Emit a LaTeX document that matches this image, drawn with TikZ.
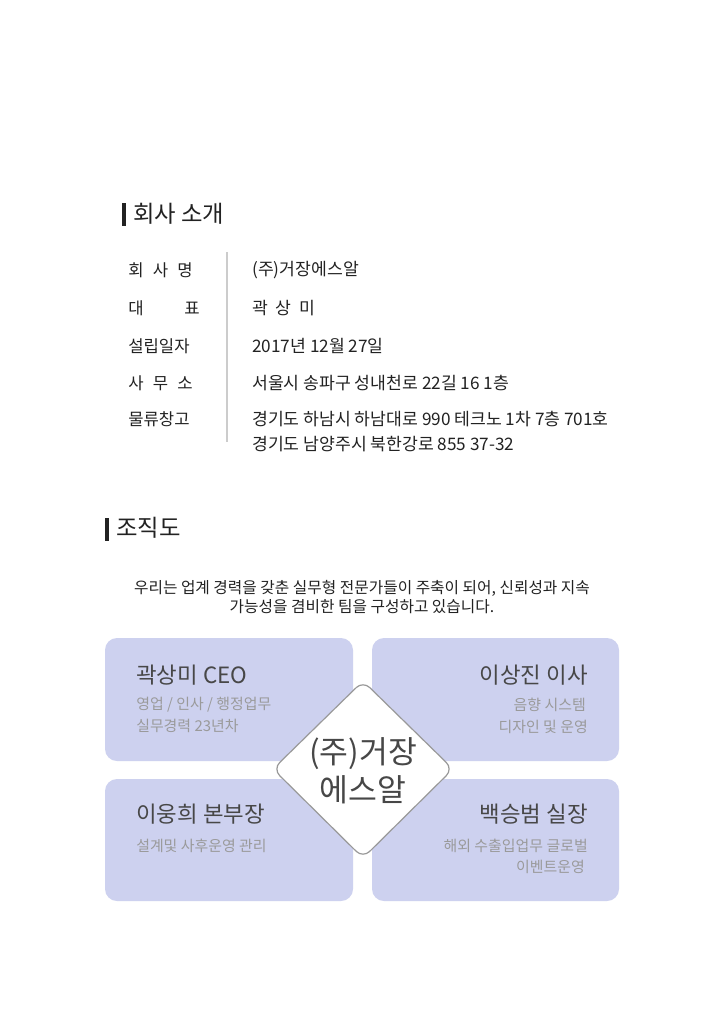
\documentclass[tikz,border=0pt]{standalone}
\usepackage{fontspec}
\setmainfont{Noto Sans CJK KR}
\definecolor{boxfill}{HTML}{CDD1EF}
\definecolor{inktext}{HTML}{222222}
\definecolor{headtext}{HTML}{474747}
\definecolor{subtext}{HTML}{9A9A9A}
\begin{document}
\begin{tikzpicture}[x=0.75pt,y=-0.75pt,
    title/.style={anchor=west,inner sep=0pt,font=\fontsize{17.5}{20}\selectfont,text=inktext},
    label/.style={anchor=west,inner sep=0pt,font=\fontsize{12.5}{15}\selectfont,text=inktext},
    value/.style={anchor=west,inner sep=0pt,font=\fontsize{12.9}{18.8}\selectfont,text=inktext,align=left},
    head/.style={inner sep=0pt,font=\fontsize{16.8}{20}\selectfont,text=headtext},
    sub/.style={inner sep=0pt,font=\fontsize{11.2}{16}\selectfont,text=subtext}]
  \useasboundingbox[fill=white] (0,0) rectangle (724,1024);

  % company info
  \fill[inktext] (122,203) rectangle (125.5,226);
  \node[title] (intro) at (133,214) {회사 소개};
  \draw[black!20,line width=0.8pt] (227,252) -- (227,442);
  \node[label] (lname)  at (128,270) {회\hspace{0.55em}사\hspace{0.55em}명};
  \node[label] (lceo)   at (128,308) {대\hspace{2.45em}표};
  \node[label] (ldate)  at (128,346) {설립일자};
  \node[label] (loffice) at (128,383) {사\hspace{0.55em}무\hspace{0.55em}소};
  \node[label] (lstore) at (128,419) {물류창고};
  \node[value] (vname)  at (252,270) {(주)거장에스알};
  \node[value] (vceo)   at (252,308) {곽\hspace{0.45em}상\hspace{0.45em}미};
  \node[value] (vdate)  at (252,346) {2017년 12월 27일};
  \node[value] (voffice) at (252,383) {서울시 송파구 성내천로 22길 16 1층};
  \node[value] (vstore) at (252,431.5) {경기도 하남시 하남대로 990 테크노 1차 7층 701호\\경기도 남양주시 북한강로 855 37-32};

  % organisation
  \fill[inktext] (105,518) rectangle (108.5,541);
  \node[title] (org) at (116,528) {조직도};
  \node[inner sep=0pt,align=center,font=\fontsize{11.8}{14.3}\selectfont,text=inktext] (about) at (362,597)
    {우리는 업계 경력을 갖춘 실무형 전문가들이 주축이 되어, 신뢰성과 지속\\가능성을 겸비한 팀을 구성하고 있습니다.};

  \begin{scope}[boxfill]
    \fill[rounded corners=9pt] (105,638) rectangle (353,761);
    \fill[rounded corners=9pt] (372,638) rectangle (619,761);
    \fill[rounded corners=9pt] (105,779) rectangle (353,901);
    \fill[rounded corners=9pt] (372,779) rectangle (619,901);
  \end{scope}

  \node[head,anchor=west] (ceo) at (136,675) {곽상미 CEO};
  \node[sub,anchor=west] at (136,705) {영업 / 인사 / 행정업무};
  \node[sub,anchor=west] at (136,726) {실무경력 23년차};
  \node[head,anchor=east] (dir) at (588,675) {이상진 이사};
  \node[sub,anchor=east] at (586,705) {음향 시스템};
  \node[sub,anchor=east] at (588,727) {디자인 및 운영};
  \node[head,anchor=west] (gm) at (136,814) {이웅희 본부장};
  \node[sub,anchor=west] at (136,846) {설계및 사후운영 관리};
  \node[head,anchor=east] (mgr) at (588,814) {백승범 실장};
  \node[sub,anchor=east] at (588,846) {해외 수출입업무 글로벌};
  \node[sub,anchor=east] at (585,867) {이벤트운영};

  \draw[fill=white,draw=black!40,line width=0.9pt,rounded corners=7pt]
    (363,681) -- (453,769) -- (363,858) -- (273,769) -- cycle;
  \node[inner sep=0pt,align=center,font=\fontsize{23.5}{28.5}\selectfont,text=headtext] (firm) at (363,771) {(주)거장\\에스알};
\end{tikzpicture}
\end{document}
